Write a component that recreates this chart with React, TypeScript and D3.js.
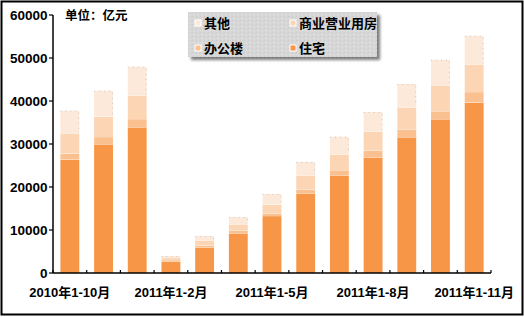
import React from "react";
import * as d3 from "d3";

const categories = [
  "2010年1-10月", "2010年1-11月", "2010年1-12月",
  "2011年1-2月", "2011年1-3月", "2011年1-4月", "2011年1-5月",
  "2011年1-6月", "2011年1-7月", "2011年1-8月", "2011年1-9月",
  "2011年1-10月", "2011年1-11月",
];
const zhuzhai = [26400, 29950, 33900, 2630, 5880, 9230, 13250, 18530, 22720, 26810, 31580, 35770, 39650];
const bangong = [1400, 1675, 1900, 380, 510, 700, 630, 880, 1190, 1670, 1840, 1860, 2440];
const shangye = [4540, 4770, 5420, 480, 1210, 1400, 2050, 3300, 3600, 4420, 5120, 6020, 6440];
const qita = [5420, 6000, 6740, 480, 1000, 1700, 2440, 3140, 4190, 4530, 5420, 5930, 6630];
const yTicks = [0, 10000, 20000, 30000, 40000, 50000, 60000];
const seriesNames = ["住宅", "办公楼", "商业营业用房", "其他"];
const seriesColors = ["#F79646", "#FAC090", "#FCD5B5", "#FDE9D9"];

const FONT = "'Liberation Sans', 'Noto Sans CJK SC', sans-serif";

export default function App() {
  const W = 524, H = 317;
  const x = d3.scaleBand<string>().domain(categories).range([53, 491]).paddingInner(0.44).paddingOuter(0.22);
  const y = d3.scaleLinear().domain([0, 60000]).range([273, 15]);
  const table = categories.map((c, i) => ({
    cat: c, 住宅: zhuzhai[i], 办公楼: bangong[i], 商业营业用房: shangye[i], 其他: qita[i],
  }));
  const stacked = d3.stack<any>().keys(seriesNames)(table);
  const step = x.step();
  const x0 = 53;

  const legendItems = [
    { name: "其他", color: seriesColors[3], lx: 195, ly: 20 },
    { name: "商业营业用房", color: seriesColors[2], lx: 290, ly: 20 },
    { name: "办公楼", color: seriesColors[1], lx: 195, ly: 45 },
    { name: "住宅", color: seriesColors[0], lx: 290, ly: 45 },
  ];

  return (
    <svg width={W} height={H} style={{ position: "absolute", left: 0, top: 0 }} fontFamily={FONT}>
      <defs>
        <filter id="blur" x="-10%" y="-10%" width="120%" height="130%">
          <feGaussianBlur stdDeviation="1.5" />
        </filter>
        <pattern id="speck" width="4" height="4" patternUnits="userSpaceOnUse">
          <rect width="4" height="4" fill="#D8D8D8" />
          <rect x="0" y="0" width="1" height="1" fill="#C8C8C8" />
          <rect x="2" y="2" width="1" height="1" fill="#E2E2E2" />
          <rect x="3" y="1" width="1" height="1" fill="#CCCCCC" />
        </pattern>
      </defs>
      <rect x={0} y={0} width={W} height={H} fill="#fff" />
      <rect x={1.5} y={1.5} width={521} height={313} fill="none" stroke="#000" strokeWidth={2} />

      {/* bars */}
      {stacked.map((s, si) => (
        <g key={s.key}>
          {s.map((d, i) => {
            const top = y(d[1]);
            const bot = y(d[0]);
            const bx = x(categories[i])!;
            const bw = x.bandwidth();
            return (
              <g key={i}>
                <rect x={bx} y={top} width={bw} height={bot - top} fill={seriesColors[si]} />
                {si < 3 && (
                  <line x1={bx} x2={bx + bw} y1={top - 0.5} y2={top - 0.5} stroke="#fff" strokeWidth={1.3} />
                )}
                {si === 3 && (
                  <path
                    d={`M${bx},${top + 0.5}H${bx + bw - 0.5}V${bot - 1}`}
                    fill="none" stroke="#C8C8C8" strokeWidth={1} strokeDasharray="1,4"
                  />
                )}
              </g>
            );
          })}
        </g>
      ))}

      {/* axes */}
      <line x1={53} x2={53} y1={y(60000)} y2={273} stroke="#000" strokeWidth={1.5} />
      <line x1={53} x2={491} y1={273} y2={273} stroke="#000" strokeWidth={1.5} />
      {yTicks.map((t) => (
        <g key={t}>
          <line x1={49} x2={53} y1={y(t)} y2={y(t)} stroke="#000" strokeWidth={1.2} />
          <text x={47.5} y={y(t)} dy="0.36em" textAnchor="end" fontSize={13.5} fontWeight="bold" fill="#000">
            {t}
          </text>
        </g>
      ))}
      {d3.range(categories.length + 1).map((k) => (
        <line key={k} x1={x0 + k * step} x2={x0 + k * step} y1={270} y2={273} stroke="#000" strokeWidth={1.2} />
      ))}
      {categories.map((c, i) =>
        i % 3 === 0 ? (
          <text key={c} x={x(c)! + x.bandwidth() / 2} y={297} textAnchor="middle" fontSize={13} fontWeight="bold" fill="#000">
            {c}
          </text>
        ) : null
      )}

      {/* title */}
      <text x={65} y={19.5} fontSize={12.5} fontWeight="bold" fill="#000">单位：亿元</text>

      {/* legend */}
      <rect x={191} y={15} width={189} height={45} fill="#7a7a7a" filter="url(#blur)" />
      <rect x={188} y={12} width={189} height={45} fill="url(#speck)" />
      {legendItems.map((it) => (
        <g key={it.name}>
          <rect x={it.lx} y={it.ly} width={6} height={6} fill={it.color} stroke="#fff" strokeWidth={1} />
          <text x={it.lx + 9} y={it.ly + 3} dy="0.36em" fontSize={13} fontWeight="bold" fill="#000">
            {it.name}
          </text>
        </g>
      ))}
    </svg>
  );
}
